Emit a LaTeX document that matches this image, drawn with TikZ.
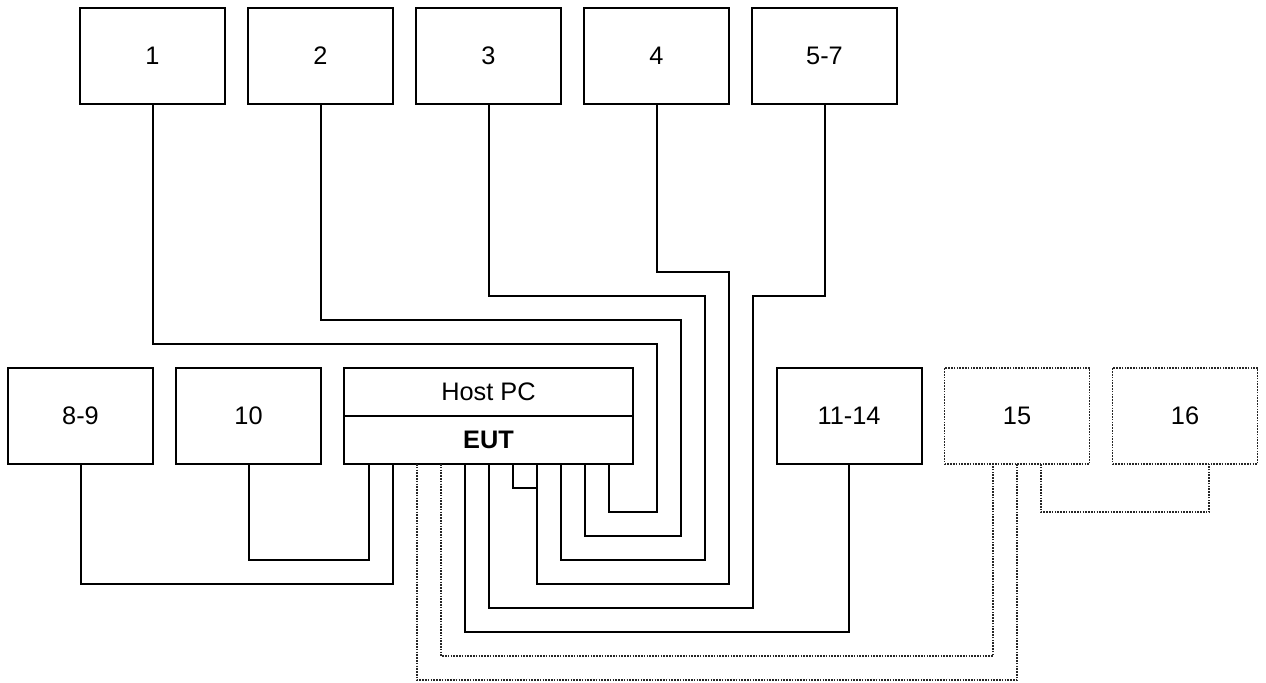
\documentclass[tikz,border=0pt]{standalone}
\usepackage{fontspec}
\setmainfont{Liberation Sans}
\usetikzlibrary{calc}
\begin{document}
\begin{tikzpicture}[x=0.75pt,y=-0.75pt,
  box/.style={draw,line width=1.5pt,minimum width=108.75pt,minimum height=72pt,inner sep=0pt,outer sep=0pt,font=\fontsize{19}{22}\selectfont},
  optbox/.style={box,line width=1.2pt,dash pattern=on 1.2pt off 0.9pt,draw=black!85},
  half/.style={draw,line width=1.5pt,minimum width=216.75pt,minimum height=36pt,inner sep=0pt,outer sep=0pt,font=\fontsize{19}{22}\selectfont},
  wire/.style={line width=1.5pt},
  optwire/.style={line width=1.2pt,dash pattern=on 1.2pt off 0.9pt,draw=black!85}]
\useasboundingbox (0,0) rectangle (1266,682);
% top row
\node[box] (b1) at (152.5,56) {1};
\node[box] (b2) at (320.5,56) {2};
\node[box] (b3) at (488.5,56) {3};
\node[box] (b4) at (656.5,56) {4};
\node[box] (b5) at (824.5,56) {5-7};
% second row
\node[box] (b8) at (80.5,416) {8-9};
\node[box] (b10) at (248.5,416) {10};
\node[half] (host) at (488.5,392) {Host PC};
\node[half] (eut) at (488.5,440) {\bfseries EUT};
\node[box] (b11) at (849,416) {11-14};
\node[optbox] (b15) at (1017,416) {15};
\node[optbox] (b16) at (1185,416) {16};
% ports on EUT
\foreach \i/\dx in {1/25,2/49,3/73,4/97,5/121,6/145,7/169,8/193,9/217,10/241,11/265}
  \coordinate (p\i) at ($(eut.south west)+(\dx,0)$);
% connectors
\draw[wire] (b10.south) |- (369,560) -- (p1);
\draw[wire] (b8.south) |- (393,584) -- (p2);
\draw[wire] (b1.south) |- (657,344) |- (609,512) -- (p11);
\draw[wire] (b2.south) |- (681,320) |- (585,536) -- (p10);
\draw[wire] (b3.south) |- (705,296) |- (561,560) -- (p9);
\draw[wire] (b4.south) |- (729,272) |- (537,584) -- (p8);
\coordinate (j8) at (537,488);
\draw[wire] (p7) |- (j8);
\draw[wire] (b5.south) |- (753,296) |- (489,608) -- (p6);
\draw[wire] (b11.south) |- (465,632) -- (p5);
\draw[optwire] (p4) |- (993,656) -- (993,464);
\draw[optwire] (p3) |- (b15.south |- 0,680) -- (b15.south);
\draw[optwire] (1041,464) |- (1209,512) -- (1209,464);
\end{tikzpicture}
\end{document}
